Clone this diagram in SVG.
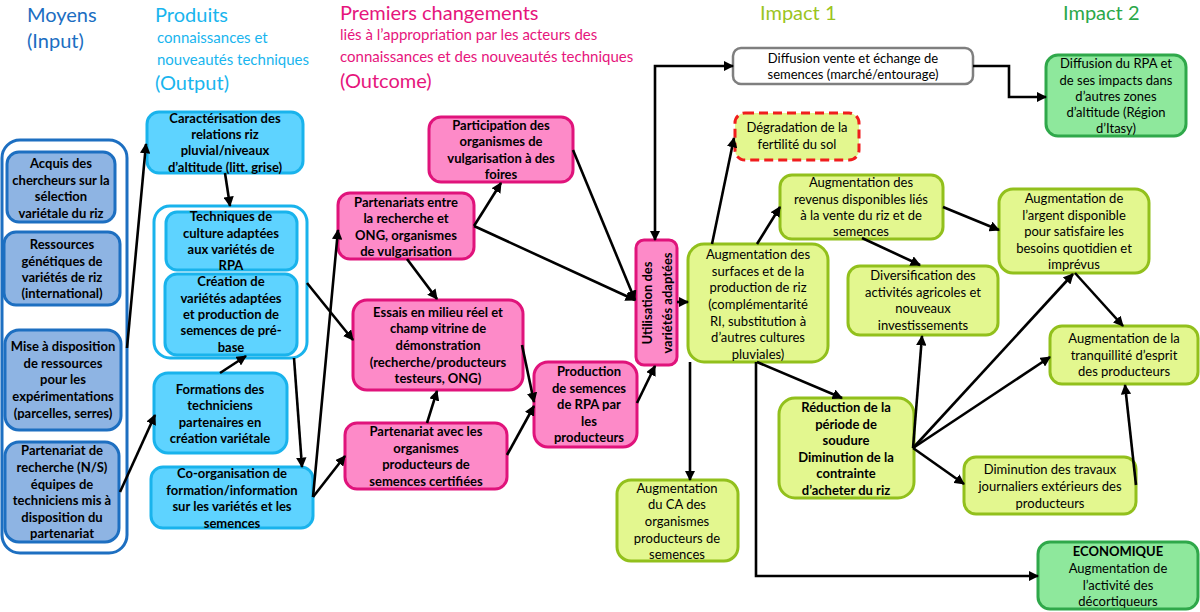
<svg xmlns="http://www.w3.org/2000/svg" width="1200" height="612" viewBox="0 0 1200 612">
<defs>
<style>
.t{font-family:Lato,'Liberation Sans',sans-serif;font-size:13px;text-anchor:middle;fill:#000}
.bd{font-weight:bold}
.h{font-family:Lato,'Open Sans',sans-serif;text-anchor:start}
.inp{fill:#8eb4e3;stroke:#1d6fc1;stroke-width:3}
.out{fill:#5ed3ff;stroke:#19b3ec;stroke-width:3}
.pk{fill:#fd8ac8;stroke:#e0137b;stroke-width:3}
.yg{fill:#e3f78f;stroke:#92c01c;stroke-width:3}
.gr{fill:#8ee89c;stroke:#2fa84a;stroke-width:3}
.cn{fill:none;stroke:#000;stroke-width:2.6;marker-end:url(#ah)}
</style>
<marker id="ah" viewBox="0 0 10 10" refX="9" refY="5" markerWidth="4" markerHeight="4" orient="auto-start-reverse" markerUnits="strokeWidth">
<path d="M0,0 L10,5 L0,10 z" fill="#000"/>
</marker>
</defs>
<rect width="1200" height="612" fill="#fff"/>

<g id="headers">
<text class="h" x="27" y="22" font-size="20" fill="#1b6ec2">Moyens</text>
<text class="h" x="27" y="48" font-size="20" fill="#1b6ec2">(Input)</text>
<text class="h" x="155" y="22" font-size="20" fill="#19b5ee">Produits</text>
<text class="h" x="157" y="43" font-size="15" fill="#19b5ee">connaissances et</text>
<text class="h" x="157" y="65" font-size="15" fill="#19b5ee">nouveautés techniques</text>
<text class="h" x="155" y="90" font-size="20" fill="#19b5ee">(Output)</text>
<text class="h" x="340" y="20" font-size="20" fill="#e6157c">Premiers changements</text>
<text class="h" x="340" y="40" font-size="15" fill="#e6157c">liés à l’appropriation par les acteurs des</text>
<text class="h" x="340" y="62" font-size="15" fill="#e6157c">connaissances et des nouveautés techniques</text>
<text class="h" x="340" y="88" font-size="20" fill="#e6157c">(Outcome)</text>
<text class="h" x="760" y="20" font-size="20" fill="#9bc421">Impact 1</text>
<text class="h" x="1063" y="20" font-size="20" fill="#2ba849">Impact 2</text>
</g>

<g id="input-group">
<rect x="2" y="140" width="125" height="413" rx="18" fill="#fff" stroke="#1d6fc1" stroke-width="3"/>
</g>
<g id="n-acquis">
<rect class="inp" x="7" y="152" width="108" height="70" rx="12"/>
<text class="t bd"><tspan x="61" y="168">Acquis des</tspan><tspan x="61" y="185">chercheurs sur la</tspan><tspan x="61" y="201">sélection</tspan><tspan x="61" y="218">variétale du riz</tspan></text>
</g>
<g id="n-ressources">
<rect class="inp" x="4" y="232" width="116" height="73" rx="12"/>
<text class="t bd"><tspan x="62" y="249">Ressources</tspan><tspan x="62" y="266">génétiques de</tspan><tspan x="62" y="282">variétés de riz</tspan><tspan x="62" y="298">(international)</tspan></text>
</g>
<g id="n-mise">
<rect class="inp" x="5" y="330" width="116" height="100" rx="14"/>
<text class="t bd"><tspan x="63" y="351">Mise à disposition</tspan><tspan x="63" y="368">de ressources</tspan><tspan x="63" y="384">pour les</tspan><tspan x="63" y="401">expérimentations</tspan><tspan x="63" y="418">(parcelles, serres)</tspan></text>
</g>
<g id="n-partenariat-recherche">
<rect class="inp" x="5" y="442" width="114" height="100" rx="14"/>
<text class="t bd"><tspan x="62" y="455">Partenariat de</tspan><tspan x="62" y="472">recherche (N/S)</tspan><tspan x="62" y="489">équipes de</tspan><tspan x="62" y="505">techniciens mis à</tspan><tspan x="62" y="522">disposition du</tspan><tspan x="62" y="538">partenariat</tspan></text>
</g>

<g id="n-caracterisation">
<rect class="out" x="147" y="112" width="156" height="61" rx="12"/>
<text class="t bd"><tspan x="225" y="123">Caractérisation des</tspan><tspan x="225" y="139">relations riz</tspan><tspan x="225" y="155">pluvial/niveaux</tspan><tspan x="225" y="172">d’altitude (litt. grise)</tspan></text>
</g>
<g id="output-group">
<rect x="154" y="206" width="153" height="152" rx="16" fill="#fff" stroke="#19b3ec" stroke-width="3"/>
</g>
<g id="n-techniques">
<rect class="out" x="166" y="212" width="131" height="58" rx="11"/>
<text class="t bd"><tspan x="231" y="221">Techniques de</tspan><tspan x="231" y="238">culture adaptées</tspan><tspan x="231" y="254">aux variétés de</tspan><tspan x="231" y="270">RPA</tspan></text>
</g>
<g id="n-creation">
<rect class="out" x="165" y="274" width="132" height="81" rx="12"/>
<text class="t bd"><tspan x="231" y="286">Création de</tspan><tspan x="231" y="303">variétés adaptées</tspan><tspan x="231" y="319">et production de</tspan><tspan x="231" y="335">semences de pré-</tspan><tspan x="231" y="352">base</tspan></text>
</g>
<g id="n-formations">
<rect class="out" x="154" y="373" width="133" height="80" rx="14"/>
<text class="t bd"><tspan x="220" y="394">Formations des</tspan><tspan x="220" y="410">techniciens</tspan><tspan x="220" y="427">partenaires en</tspan><tspan x="220" y="443">création variétale</tspan></text>
</g>
<g id="n-coorganisation">
<rect class="out" x="151" y="467" width="162" height="61" rx="12"/>
<text class="t bd"><tspan x="232" y="478">Co-organisation de</tspan><tspan x="232" y="495">formation/information</tspan><tspan x="232" y="511">sur les variétés et les</tspan><tspan x="232" y="528">semences</tspan></text>
</g>

<g id="n-participation">
<rect class="pk" x="429" y="117" width="144" height="65" rx="12"/>
<text class="t bd"><tspan x="501" y="130">Participation des</tspan><tspan x="501" y="146">organismes de</tspan><tspan x="501" y="163">vulgarisation à des</tspan><tspan x="501" y="179">foires</tspan></text>
</g>
<g id="n-partenariats-ong">
<rect class="pk" x="338" y="193" width="136" height="66" rx="12"/>
<text class="t bd"><tspan x="406" y="207">Partenariats entre</tspan><tspan x="406" y="223">la recherche et</tspan><tspan x="406" y="240">ONG, organismes</tspan><tspan x="406" y="256">de vulgarisation</tspan></text>
</g>
<g id="n-essais">
<rect class="pk" x="353" y="300" width="170" height="90" rx="14"/>
<text class="t bd"><tspan x="438" y="317">Essais en milieu réel  et</tspan><tspan x="438" y="333">champ vitrine de</tspan><tspan x="438" y="350">démonstration</tspan><tspan x="438" y="367">(recherche/producteurs</tspan><tspan x="438" y="383">testeurs, ONG)</tspan></text>
</g>
<g id="n-partenariat-semences">
<rect class="pk" x="345" y="423" width="162" height="66" rx="12"/>
<text class="t bd"><tspan x="426" y="436">Partenariat avec les</tspan><tspan x="426" y="453">organismes</tspan><tspan x="426" y="469">producteurs de</tspan><tspan x="426" y="486">semences certifiées</tspan></text>
</g>
<g id="n-production">
<rect class="pk" x="534" y="362" width="103" height="85" rx="14"/>
<text class="t bd"><tspan x="589" y="376">Production</tspan><tspan x="589" y="393">de semences</tspan><tspan x="589" y="409">de RPA par</tspan><tspan x="589" y="426">les</tspan><tspan x="589" y="442">producteurs</tspan></text>
</g>
<g id="n-utilisation">
<rect class="pk" x="636" y="240" width="41" height="125" rx="8"/>
<text class="t bd" transform="translate(652,303) rotate(-90)"><tspan x="0" y="0">Utilisation des</tspan></text>
<text class="t bd" transform="translate(672,303) rotate(-90)"><tspan x="0" y="0">variétés adaptées</tspan></text>
</g>

<g id="n-diffusion-vente">
<rect x="733" y="48" width="240" height="36" rx="8" fill="#fff" stroke="#7f7f7f" stroke-width="2.5"/>
<text class="t"><tspan x="853" y="63">Diffusion vente et échange de</tspan><tspan x="853" y="79">semences (marché/entourage)</tspan></text>
</g>
<g id="n-degradation">
<rect x="735" y="113" width="124" height="47" rx="10" fill="#e3f78f" stroke="#f01d1d" stroke-width="3" stroke-dasharray="9,5"/>
<text class="t"><tspan x="797" y="132">Dégradation de la</tspan><tspan x="797" y="149">fertilité du sol</tspan></text>
</g>
<g id="n-diffusion-rpa">
<rect class="gr" x="1046" y="55" width="140" height="81" rx="12"/>
<text class="t"><tspan x="1116" y="68">Diffusion du RPA et</tspan><tspan x="1116" y="85">de ses impacts dans</tspan><tspan x="1116" y="101">d’autres zones</tspan><tspan x="1116" y="117">d’altitude (Région</tspan><tspan x="1116" y="133">d’Itasy)</tspan></text>
</g>
<g id="n-surfaces">
<rect class="yg" x="688" y="244" width="140" height="118" rx="16"/>
<text class="t"><tspan x="758" y="259">Augmentation des</tspan><tspan x="758" y="276">surfaces et de la</tspan><tspan x="758" y="292">production de riz</tspan><tspan x="758" y="309">(complémentarité</tspan><tspan x="758" y="326">RI, substitution à</tspan><tspan x="758" y="342">d’autres cultures</tspan><tspan x="758" y="359">pluviales)</tspan></text>
</g>
<g id="n-revenus">
<rect class="yg" x="780" y="175" width="163" height="64" rx="12"/>
<text class="t"><tspan x="861" y="187">Augmentation des</tspan><tspan x="861" y="204">revenus disponibles liés</tspan><tspan x="861" y="220">à la vente du riz et de</tspan><tspan x="861" y="236">semences</tspan></text>
</g>
<g id="n-diversification">
<rect class="yg" x="848" y="266" width="150" height="69" rx="12"/>
<text class="t"><tspan x="923" y="280">Diversification des</tspan><tspan x="923" y="297">activités agricoles et</tspan><tspan x="923" y="313">nouveaux</tspan><tspan x="923" y="330">investissements</tspan></text>
</g>
<g id="n-argent">
<rect class="yg" x="999" y="189" width="150" height="84" rx="14"/>
<text class="t"><tspan x="1074" y="203">Augmentation de</tspan><tspan x="1074" y="220">l’argent disponible</tspan><tspan x="1074" y="236">pour satisfaire les</tspan><tspan x="1074" y="253">besoins quotidien et</tspan><tspan x="1074" y="269">imprévus</tspan></text>
</g>
<g id="n-tranquillite">
<rect class="yg" x="1050" y="326" width="148" height="58" rx="12"/>
<text class="t"><tspan x="1124" y="343">Augmentation de la</tspan><tspan x="1124" y="360">tranquillité d’esprit</tspan><tspan x="1124" y="376">des producteurs</tspan></text>
</g>
<g id="n-reduction">
<rect class="yg" x="779" y="398" width="135" height="100" rx="16"/>
<text class="t bd"><tspan x="846" y="412">Réduction de la</tspan><tspan x="846" y="429">période de</tspan><tspan x="846" y="445">soudure</tspan><tspan x="846" y="462">Diminution de la</tspan><tspan x="846" y="478">contrainte</tspan><tspan x="846" y="495">d’acheter du riz</tspan></text>
</g>
<g id="n-diminution">
<rect class="yg" x="964" y="457" width="172" height="57" rx="12"/>
<text class="t"><tspan x="1050" y="474">Diminution des travaux</tspan><tspan x="1050" y="491">journaliers extérieurs des</tspan><tspan x="1050" y="508">producteurs</tspan></text>
</g>
<g id="n-ca">
<rect class="yg" x="617" y="480" width="121" height="81" rx="14"/>
<text class="t"><tspan x="677" y="493">Augmentation</tspan><tspan x="677" y="509">du CA des</tspan><tspan x="677" y="526">organismes</tspan><tspan x="677" y="543">producteurs de</tspan><tspan x="677" y="559">semences</tspan></text>
</g>
<g id="n-economique">
<rect class="gr" x="1038" y="542" width="160" height="67" rx="12"/>
<text class="t"><tspan x="1118" y="556" font-weight="bold">ECONOMIQUE</tspan><tspan x="1118" y="573">Augmentation de</tspan><tspan x="1118" y="590">l’activité des</tspan><tspan x="1118" y="606">décortiqueurs</tspan></text>
</g>

<g id="connectors">
<line class="cn" x1="127" y1="348" x2="146" y2="144"/>
<line class="cn" x1="120" y1="492" x2="155" y2="415"/>
<line class="cn" x1="225" y1="173" x2="230" y2="206"/>
<line class="cn" x1="220" y1="373" x2="246" y2="356"/>
<line class="cn" x1="294" y1="358" x2="302" y2="467"/>
<line class="cn" x1="307" y1="283" x2="353" y2="340"/>
<line class="cn" x1="313" y1="497" x2="338" y2="230"/>
<line class="cn" x1="313" y1="497" x2="345" y2="456"/>
<line class="cn" x1="474" y1="226" x2="501" y2="183"/>
<line class="cn" x1="474" y1="226" x2="635" y2="300"/>
<line class="cn" x1="573" y1="150" x2="635" y2="300"/>
<line class="cn" x1="407" y1="259" x2="437" y2="299"/>
<line class="cn" x1="427" y1="423" x2="437" y2="391"/>
<line class="cn" x1="522" y1="345" x2="534" y2="402"/>
<line class="cn" x1="507" y1="455" x2="534" y2="406"/>
<line class="cn" x1="637" y1="403" x2="655" y2="366"/>
<line class="cn" x1="677" y1="302" x2="688" y2="302"/>
<polyline class="cn" points="655,240 655,66 733,66" style="marker-start:url(#ah)"/>
<polyline class="cn" points="973,66 1009,66 1009,97 1046,97"/>
<line class="cn" x1="712" y1="244" x2="734" y2="138"/>
<line class="cn" x1="757" y1="244" x2="780" y2="207"/>
<line class="cn" x1="862" y1="238" x2="920" y2="265"/>
<line class="cn" x1="943" y1="207" x2="999" y2="230"/>
<line class="cn" x1="1075" y1="273" x2="1123" y2="326"/>
<line class="cn" x1="757" y1="362" x2="842" y2="398"/>
<line class="cn" x1="690" y1="362" x2="690" y2="480"/>
<polyline class="cn" points="756,362 756,576 1038,576"/>
<line class="cn" x1="913" y1="448" x2="922" y2="336"/>
<line class="cn" x1="913" y1="448" x2="1073" y2="274"/>
<line class="cn" x1="913" y1="448" x2="1050" y2="357"/>
<line class="cn" x1="913" y1="448" x2="964" y2="484"/>
<line class="cn" x1="1136" y1="485" x2="1125" y2="385"/>
</g>
</svg>
